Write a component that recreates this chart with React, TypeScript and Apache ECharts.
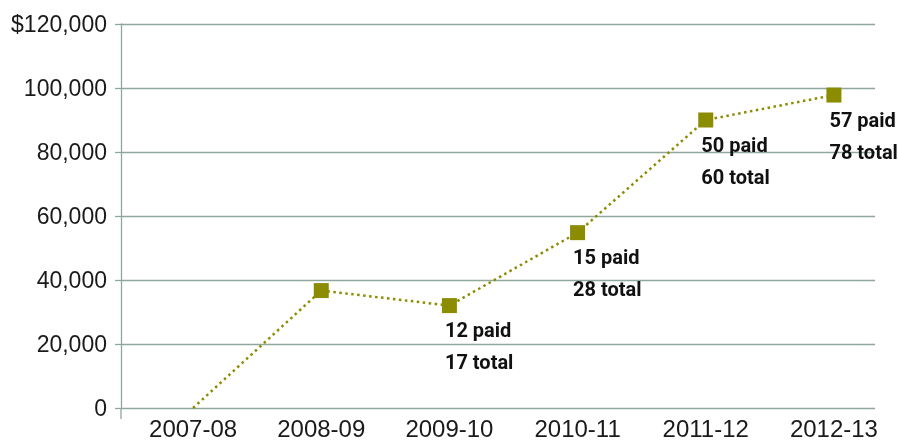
import React, { useEffect, useRef } from "react";
import * as echarts from "echarts";

const categories = ["2007-08", "2008-09", "2009-10", "2010-11", "2011-12", "2012-13"];
const amounts = [0, 36700, 32000, 54800, 90000, 97800];
const paid: (number | null)[] = [null, null, 12, 15, 50, 57];
const total: (number | null)[] = [null, null, 17, 28, 60, 78];
const yTicks = [0, 20000, 40000, 60000, 80000, 100000, 120000];

const GRID = "#8fa89b";
const OLIVE = "#8c8c00";

export default function App() {
  const ref = useRef<HTMLDivElement>(null);
  useEffect(() => {
    if (!ref.current) return;
    const chart = echarts.init(ref.current, undefined, { renderer: "svg" });
    const data = amounts.map((v, i) => ({
      value: v,
      symbol: i === 0 ? "none" : "rect",
      label: {
        show: paid[i] !== null,
        formatter: `${paid[i]} paid\n${total[i]} total`,
      },
    }));
    chart.setOption({
      animation: false,
      grid: [
        { left: 121, right: 23, top: 24, bottom: 33 },
        { left: 129, right: 0, top: 24, bottom: 33 },
      ],
      xAxis: [
        { type: "value", gridIndex: 0, show: false, min: 0, max: 1 },
        {
          type: "category",
          gridIndex: 1,
          data: categories,
          boundaryGap: true,
          axisLine: { show: false },
          axisTick: { show: false },
          axisLabel: {
            color: "#1a1a1a",
            fontSize: 24,
            fontFamily: "'Liberation Sans', Arial, sans-serif",
            margin: 8,
          },
        },
      ],
      yAxis: [
        {
          type: "value",
          gridIndex: 0,
          min: yTicks[0],
          max: yTicks[yTicks.length - 1],
          interval: 20000,
          axisLine: { show: true, lineStyle: { color: GRID, width: 1.3 } },
          axisTick: { show: true, length: 6, lineStyle: { color: GRID, width: 1.3 } },
          splitLine: { show: true, lineStyle: { color: GRID, width: 1.3 } },
          axisLabel: {
            color: "#1a1a1a",
            fontSize: 23,
            fontFamily: "'Liberation Sans', Arial, sans-serif",
            margin: 14,
            formatter: (v: number) =>
              (v === 120000 ? "$" : "") + v.toLocaleString("en-US"),
          },
        },
        {
          type: "value",
          gridIndex: 1,
          min: yTicks[0],
          max: yTicks[yTicks.length - 1],
          show: false,
          splitLine: { show: false },
        },
      ],
      graphic: [
        {
          type: "line",
          shape: { x1: 121, y1: 408, x2: 121, y2: 419 },
          style: { stroke: GRID, lineWidth: 1.3 },
        },
      ],
      series: [
        {
          type: "line",
          xAxisIndex: 1,
          yAxisIndex: 1,
          data,
          symbol: "rect",
          symbolSize: 15,
          itemStyle: { color: OLIVE },
          lineStyle: { color: OLIVE, width: 2.5, type: [2.5, 3.5] },
          label: {
            position: [3, 16],
            align: "left",
            verticalAlign: "top",
            color: "#111",
            fontSize: 20,
            fontWeight: "bold",
            lineHeight: 32,
            fontFamily: "Roboto, sans-serif",
          },
        },
      ],
    });
    return () => chart.dispose();
  }, []);
  return (
    <div
      ref={ref}
      style={{ position: "fixed", left: 0, top: 0, width: 898, height: 441 }}
    />
  );
}
